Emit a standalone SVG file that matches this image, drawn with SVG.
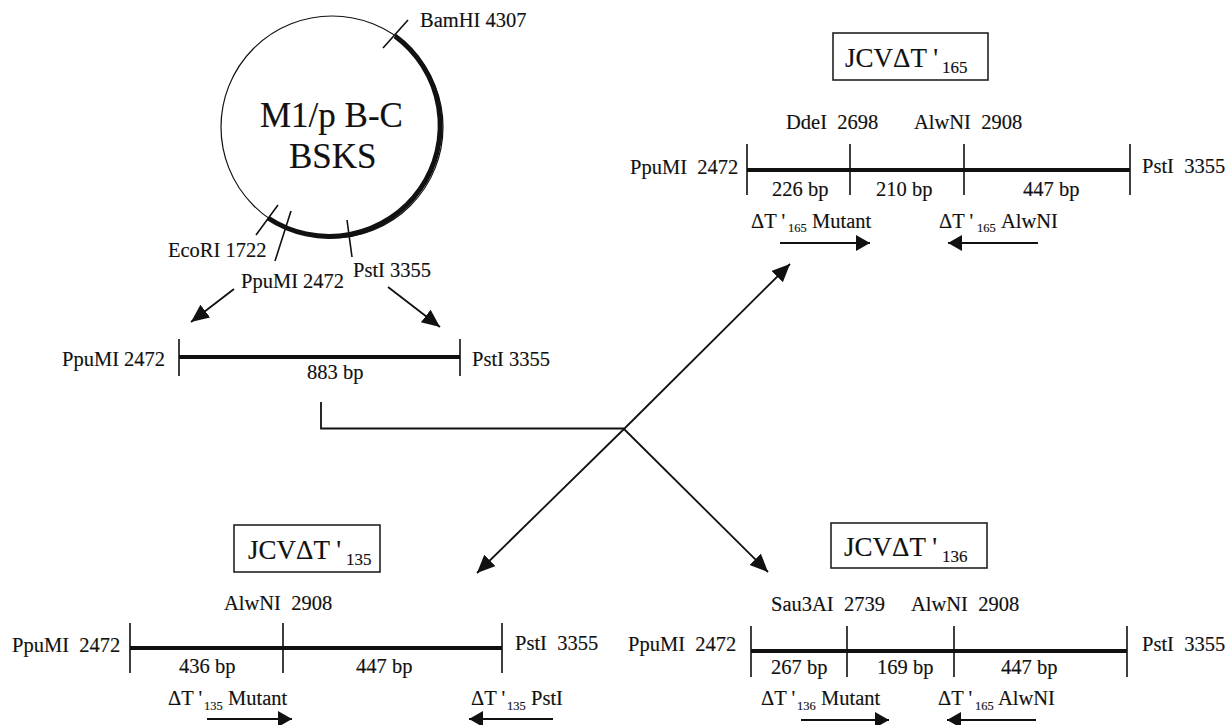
<svg xmlns="http://www.w3.org/2000/svg" width="1226" height="725" viewBox="0 0 1226 725">
<style>
text{font-family:"Liberation Serif","Times New Roman",serif;font-size:20.5px;fill:#111;stroke:#111;stroke-width:.15;white-space:pre}
.big{font-size:35px}
.ttl{font-size:27px}
.sub{font-size:12.5px}
.tsub{font-size:17px}
.thin{stroke:#111;stroke-width:1.8;fill:none}
.tick{stroke:#111;stroke-width:1.6;fill:none}
.bar{stroke:#111;stroke-width:4;fill:none}
.box{stroke:#222;stroke-width:1.6;fill:#fff}
.big-arrow{marker-end:url(#bigHead)}
.small-arrow{marker-end:url(#smallHead)}
</style>
<defs>
<marker id="bigHead" markerUnits="userSpaceOnUse" markerWidth="20" markerHeight="18" refX="18" refY="8" orient="auto"><path d="M0 0L18 8L0 16Z" fill="#111"/></marker>
<marker id="smallHead" markerUnits="userSpaceOnUse" markerWidth="16" markerHeight="18" refX="14" refY="8" orient="auto"><path d="M0 0L14 8L0 16Z" fill="#111"/></marker>
</defs>
<rect width="1226" height="725" fill="#fff"/>
<g id="connectors">
<path class="thin" d="M321 402V428.500H624"/>
<path class="thin big-arrow" d="M624 429L790 264"/>
<path class="thin big-arrow" d="M624 429L477 573"/>
<path class="thin big-arrow" d="M624 429L768 572"/>
<path class="thin big-arrow" d="M234 289L191 322"/>
<path class="thin big-arrow" d="M388 287L440 327"/>
</g>
<g id="plasmid">
<circle cx="332" cy="127" r="111" fill="none" stroke="#111" stroke-width="1.2"/>
<path d="M395 36A111 111 0 0 1 268 218" fill="none" stroke="#111" stroke-width="5"/>
<path class="tick" d="M408 20L383 48M278 205L256 235M291 211L275 261M347 220L352 257"/>
<text class="big" x="260" y="127">M1/p B-C</text>
<text class="big" x="289" y="168">BSKS</text>
<text x="420" y="27">BamHI 4307</text>
<text x="168" y="257">EcoRI 1722</text>
<text x="241" y="288">PpuMI 2472</text>
<text x="353" y="277">PstI 3355</text>
</g>
<g id="fragment">
<path class="bar" d="M179 357H460"/>
<path class="tick" d="M179 339V376M460 339V376"/>
<text x="62" y="366">PpuMI 2472</text>
<text x="472" y="366">PstI 3355</text>
<text x="307" y="379">883 bp</text>
</g>
<g id="jcv165">
<rect class="box" x="833" y="33" width="155" height="47"/>
<text class="ttl" x="845" y="67">JCVΔT '</text><text class="tsub" x="942" y="73">165</text>
<text x="786" y="129">DdeI  2698</text>
<text x="914" y="129">AlwNI  2908</text>
<path class="bar" d="M747 170H1130"/>
<path class="tick" d="M747 144V195M850 144V195M964 144V195M1130 144V195"/>
<text x="630" y="174">PpuMI  2472</text>
<text x="1142" y="173">PstI  3355</text>
<text x="772" y="196">226 bp</text>
<text x="876" y="196">210 bp</text>
<text x="1023" y="196">447 bp</text>
<text x="751" y="228">ΔT '</text><text class="sub" x="788" y="232">165</text><text x="812" y="228">Mutant</text>
<text x="939" y="228">ΔT '</text><text class="sub" x="977" y="232">165</text><text x="1001" y="228">AlwNI</text>
<path class="thin small-arrow" d="M780 243H870"/>
<path class="thin small-arrow" d="M1038 243H948"/>
</g>
<g id="jcv135">
<rect class="box" x="234" y="525" width="146" height="47"/>
<text class="ttl" x="248" y="559">JCVΔT '</text><text class="tsub" x="346" y="565">135</text>
<text x="224" y="610">AlwNI  2908</text>
<path class="bar" d="M130 648H502"/>
<path class="tick" d="M130 623V673M283 623V673M502 623V673"/>
<text x="12" y="652">PpuMI  2472</text>
<text x="515" y="650">PstI  3355</text>
<text x="179" y="673">436 bp</text>
<text x="356" y="673">447 bp</text>
<text x="168" y="705">ΔT '</text><text class="sub" x="204" y="710">135</text><text x="228" y="705">Mutant</text>
<text x="471" y="705">ΔT '</text><text class="sub" x="507" y="710">135</text><text x="531" y="705">PstI</text>
<path class="thin small-arrow" d="M207 719H292"/>
<path class="thin small-arrow" d="M553 719H469"/>
</g>
<g id="jcv136">
<rect class="box" x="831" y="523" width="156" height="45"/>
<text class="ttl" x="844" y="556">JCVΔT '</text><text class="tsub" x="942" y="562">136</text>
<text x="771" y="611">Sau3AI  2739</text>
<text x="911" y="611">AlwNI  2908</text>
<path class="bar" d="M751 651H1127"/>
<path class="tick" d="M751 626V677M847 626V677M954 626V677M1127 626V677"/>
<text x="628" y="651">PpuMI  2472</text>
<text x="1142" y="651">PstI  3355</text>
<text x="771" y="674">267 bp</text>
<text x="877" y="674">169 bp</text>
<text x="1001" y="674">447 bp</text>
<text x="761" y="705">ΔT '</text><text class="sub" x="797" y="710">136</text><text x="821" y="705">Mutant</text>
<text x="938" y="705">ΔT '</text><text class="sub" x="975" y="710">165</text><text x="998" y="705">AlwNI</text>
<path class="thin small-arrow" d="M801 720H889"/>
<path class="thin small-arrow" d="M1036 720H947"/>
</g>
</svg>
